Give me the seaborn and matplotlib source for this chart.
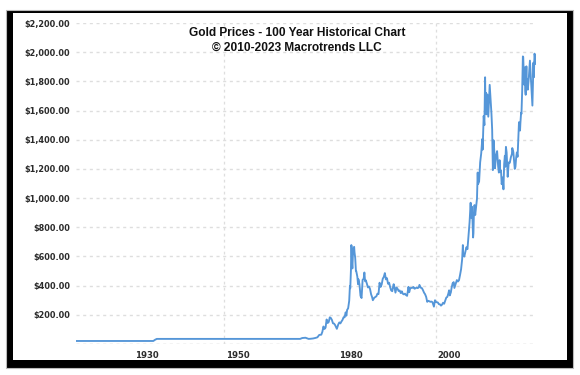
import matplotlib
matplotlib.use('Agg')
import matplotlib.pyplot as plt
from matplotlib.patches import Rectangle
from matplotlib.ticker import FuncFormatter
import numpy as np
import pandas as pd
import seaborn as sns

# ── Data (monthly-ish gold price, USD/oz) ────────────────────────────────────
months = [
    "1915-01", "1933-04", "1933-09", "1934-02", "1967-12",
    "1968-06", "1969-03", "1969-12", "1970-06", "1971-01", "1971-08",
    "1972-01", "1972-06", "1972-12", "1973-03", "1973-06", "1973-09", "1973-12",
    "1974-03", "1974-06", "1974-09", "1974-12", "1975-03", "1975-06", "1975-09",
    "1975-12", "1976-03", "1976-08", "1976-12", "1977-03", "1977-06", "1977-09",
    "1977-12", "1978-03", "1978-06", "1978-09", "1978-11", "1979-01", "1979-04",
    "1979-07", "1979-09", "1979-10", "1979-12", "1980-01", "1980-02", "1980-03",
    "1980-04", "1980-06", "1980-09", "1980-10", "1980-12", "1981-02", "1981-03",
    "1981-06", "1981-08", "1981-09", "1981-12", "1982-03", "1982-06", "1982-09",
    "1982-12", "1983-02", "1983-04", "1983-06", "1983-09", "1983-12", "1984-03",
    "1984-06", "1984-09", "1984-12", "1985-02", "1985-06", "1985-09", "1985-12",
    "1986-03", "1986-06", "1986-09", "1986-12", "1987-03", "1987-06", "1987-09",
    "1987-12", "1988-03", "1988-06", "1988-09", "1988-12", "1989-03", "1989-06",
    "1989-09", "1989-12", "1990-01", "1990-03", "1990-06", "1990-09", "1990-12",
    "1991-03", "1991-06", "1991-09", "1991-12", "1992-03", "1992-06", "1992-09",
    "1992-12", "1993-03", "1993-07", "1993-09", "1993-12", "1994-03", "1994-06",
    "1994-09", "1994-12", "1995-03", "1995-06", "1995-09", "1995-12", "1996-02",
    "1996-06", "1996-09", "1996-12", "1997-03", "1997-06", "1997-09", "1997-12",
    "1998-03", "1998-06", "1998-09", "1998-12", "1999-03", "1999-07", "1999-10",
    "1999-12", "2000-03", "2000-06", "2000-09", "2000-12", "2001-03", "2001-06",
    "2001-09", "2001-12", "2002-03", "2002-06", "2002-09", "2002-12", "2003-02",
    "2003-04", "2003-07", "2003-09", "2003-12", "2004-03", "2004-05", "2004-09",
    "2004-12", "2005-03", "2005-06", "2005-09", "2005-12", "2006-03", "2006-05",
    "2006-06", "2006-09", "2006-12", "2007-03", "2007-06", "2007-09", "2007-12",
    "2008-03", "2008-05", "2008-07", "2008-10", "2008-11", "2008-12", "2009-02",
    "2009-04", "2009-06", "2009-09", "2009-11", "2009-12", "2010-03", "2010-06",
    "2010-09", "2010-12", "2011-01", "2011-04", "2011-06", "2011-08", "2011-09",
    "2011-10", "2011-12", "2012-02", "2012-05", "2012-09", "2012-12", "2013-02",
    "2013-04", "2013-06", "2013-08", "2013-10", "2013-12", "2014-03", "2014-06",
    "2014-09", "2014-11", "2015-01", "2015-03", "2015-05", "2015-07", "2015-10",
    "2015-12", "2016-02", "2016-04", "2016-05", "2016-07", "2016-09", "2016-12",
    "2017-03", "2017-06", "2017-09", "2017-12", "2018-01", "2018-04", "2018-08",
    "2018-10", "2018-12", "2019-02", "2019-04", "2019-06", "2019-08", "2019-11",
    "2019-12", "2020-02", "2020-03", "2020-05", "2020-07", "2020-08", "2020-09",
    "2020-11", "2020-12", "2021-02", "2021-03", "2021-05", "2021-06", "2021-08",
    "2021-09", "2021-12", "2022-02", "2022-03", "2022-04", "2022-06", "2022-09",
    "2022-10", "2022-12", "2023-01", "2023-02", "2023-04", "2023-05", "2023-06",
    "2023-07",
]
prices = [
    20.67, 20.67, 29, 35, 35,
    41, 43, 35, 36, 38, 42,
    46, 62, 64, 84, 120, 103, 112,
    168, 144, 151, 183, 178, 165, 142,
    140, 130, 104, 134, 148, 141, 154,
    165, 183, 183, 217, 194, 233, 245,
    296, 397, 382, 512, 678, 665, 553,
    518, 640, 666, 630, 590, 500, 499,
    462, 410, 444, 410, 330, 315, 440,
    447, 490, 430, 437, 414, 388, 394,
    377, 341, 320, 300, 317, 322, 327,
    345, 342, 420, 391, 408, 447, 460,
    486, 443, 451, 413, 420, 390, 367,
    362, 402, 410, 393, 352, 387, 378,
    363, 367, 349, 361, 344, 340, 345,
    335, 330, 392, 355, 383, 384, 385,
    391, 379, 382, 387, 383, 387, 405,
    385, 383, 369, 352, 341, 323, 289,
    296, 293, 289, 291, 286, 256, 300,
    290, 286, 285, 273, 272, 263, 270,
    283, 276, 296, 318, 323, 347, 368,
    333, 354, 384, 416, 424, 384, 416,
    438, 428, 437, 473, 513, 582, 678,
    614, 599, 632, 663, 650, 743, 834,
    968, 865, 940, 730, 760, 869, 952,
    884, 927, 996, 1175, 1096, 1113, 1245,
    1307, 1405, 1332, 1563, 1500, 1828, 1620,
    1722, 1574, 1711, 1558, 1776, 1657, 1578,
    1469, 1192, 1396, 1323, 1204, 1291, 1322,
    1216, 1175, 1260, 1183, 1190, 1095, 1142,
    1060, 1234, 1290, 1214, 1351, 1313, 1146,
    1245, 1242, 1280, 1302, 1343, 1315, 1200,
    1214, 1279, 1313, 1283, 1409, 1520, 1463,
    1515, 1585, 1577, 1730, 1971, 1967, 1886,
    1777, 1895, 1734, 1708, 1903, 1770, 1814,
    1743, 1829, 1909, 1942, 1897, 1817, 1660,
    1634, 1812, 1928, 1828, 1990, 1977, 1919,
    1965,
]

y_ticks = list(range(0, 2201, 200))
# the source draws its year labels a bit off the year grid
x_tick_pos = [1931.8, 1953.2, 1979.9, 2003.1]
x_tick_labels = ["1930", "1950", "1980", "2000"]
x_grid_years = [1950, 2000]

LINE_COLOR = "#5596d8"
GRID_COLOR = "#dedede"
TEXT_COLOR = "#2b2b2b"

# ── Build frame ──────────────────────────────────────────────────────────────
dt = pd.to_datetime(months)
df = pd.DataFrame({"year": dt.year + (dt.month - 1) / 12.0, "price": prices})

sns.set_style("white")
plt.rcParams['font.family'] = ['DejaVu Sans']

W, H = 580, 375
fig = plt.figure(figsize=(W / 100, H / 100), dpi=100)

# black picture frame
fig.patches.append(Rectangle((6 / W, 1 - 368 / H), 567 / W, 358 / H,
                             transform=fig.transFigure, facecolor="black",
                             edgecolor="#bbbbbb", lw=0.8, zorder=0))
fig.patches.append(Rectangle((13 / W, 1 - 360 / H), 554 / W, 347 / H,
                             transform=fig.transFigure, facecolor="white",
                             edgecolor="none", zorder=0.5))

ax = fig.add_axes([76 / W, 1 - 344 / H, 460 / W, 321 / H])
ax.set_zorder(2)
ax.patch.set_alpha(0)

for v in y_ticks:
    ax.axhline(v, color="#c4c4c4" if v == 0 else GRID_COLOR, lw=1.0,
               ls=(0, (2.2, 2.6)), zorder=0)
for yr in x_grid_years:
    ax.axvline(yr, color=GRID_COLOR, lw=0.9, ls=(0, (2.2, 2.6)), zorder=0)

sns.lineplot(data=df, x="year", y="price", ax=ax, color=LINE_COLOR,
             lw=1.35, zorder=3)

ax.set_xlim(1915.0, 2023.6)
ax.set_ylim(0, 2200)
ax.set_yticks(y_ticks[1:])
ax.yaxis.set_major_formatter(FuncFormatter(lambda v, p: f"${v:,.2f}"))
ax.set_xticks(x_tick_pos)
ax.set_xticklabels(x_tick_labels)
ax.tick_params(axis="y", length=0, pad=4, labelsize=5.9, labelcolor=TEXT_COLOR)
ax.tick_params(axis="x", length=0, pad=5, labelsize=6.1, labelcolor=TEXT_COLOR)
for lab in ax.get_xticklabels() + ax.get_yticklabels():
    lab.set_fontweight("bold")
ax.set_xlabel(""); ax.set_ylabel("")
for s in ax.spines.values():
    s.set_visible(False)

title_kw = dict(ha="center", va="center", fontsize=8.6, fontweight="bold",
                family="Liberation Sans", color="#111111", zorder=5)
fig.text(297 / W, 1 - 33 / H, "Gold Prices - 100 Year Historical Chart", **title_kw)
fig.text(297 / W, 1 - 48 / H, "\u00a9 2010-2023 Macrotrends LLC", **title_kw)

fig.savefig("out.png", dpi=100)
